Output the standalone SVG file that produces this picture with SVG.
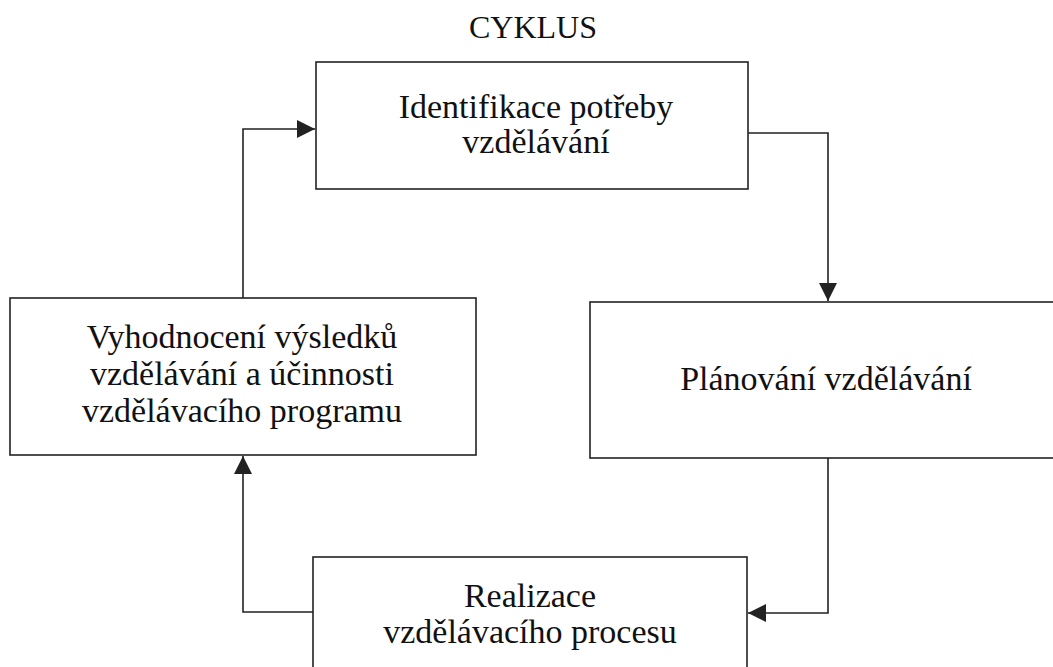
<svg xmlns="http://www.w3.org/2000/svg" width="1053" height="667" viewBox="0 0 1053 667">
<style>
.box{fill:#fff;stroke:#222;stroke-width:1.6}
.t{font-family:"Liberation Serif","Times New Roman",serif;font-size:34px;fill:#111;text-anchor:middle}
.c{fill:none;stroke:#222;stroke-width:1.6}
</style>
<defs>
<marker id="ah" markerUnits="userSpaceOnUse" markerWidth="20" markerHeight="20" refX="18" refY="10" orient="auto">
<path d="M0,1 L18,10 L0,19 z" fill="#222"/>
</marker>
</defs>
<rect width="1053" height="667" fill="#fff"/>
<text class="t" x="533" y="38" style="font-size:32px">CYKLUS</text>
<g id="connectors">
<path class="c" d="M748,133 H828 V301" marker-end="url(#ah)"/>
<path class="c" d="M828,458 V613 H748" marker-end="url(#ah)"/>
<path class="c" d="M313,612 H243 V456" marker-end="url(#ah)"/>
<path class="c" d="M243,298 V129 H315" marker-end="url(#ah)"/>
</g>
<g id="identifikace">
<rect class="box" x="316" y="62" width="432" height="127"/>
<text class="t" x="536" y="118">Identifikace potřeby</text>
<text class="t" x="536" y="153">vzdělávání</text>
</g>
<g id="planovani">
<rect class="box" x="590" y="302" width="473" height="156"/>
<text class="t" x="826" y="390">Plánování vzdělávání</text>
</g>
<g id="realizace">
<rect class="box" x="313" y="557" width="434" height="130"/>
<text class="t" x="530" y="607">Realizace</text>
<text class="t" x="530" y="643">vzdělávacího procesu</text>
</g>
<g id="vyhodnoceni">
<rect class="box" x="10" y="298" width="466" height="157"/>
<text class="t" x="242" y="348">Vyhodnocení výsledků</text>
<text class="t" x="242" y="385">vzdělávání a účinnosti</text>
<text class="t" x="242" y="422">vzdělávacího programu</text>
</g>
</svg>
